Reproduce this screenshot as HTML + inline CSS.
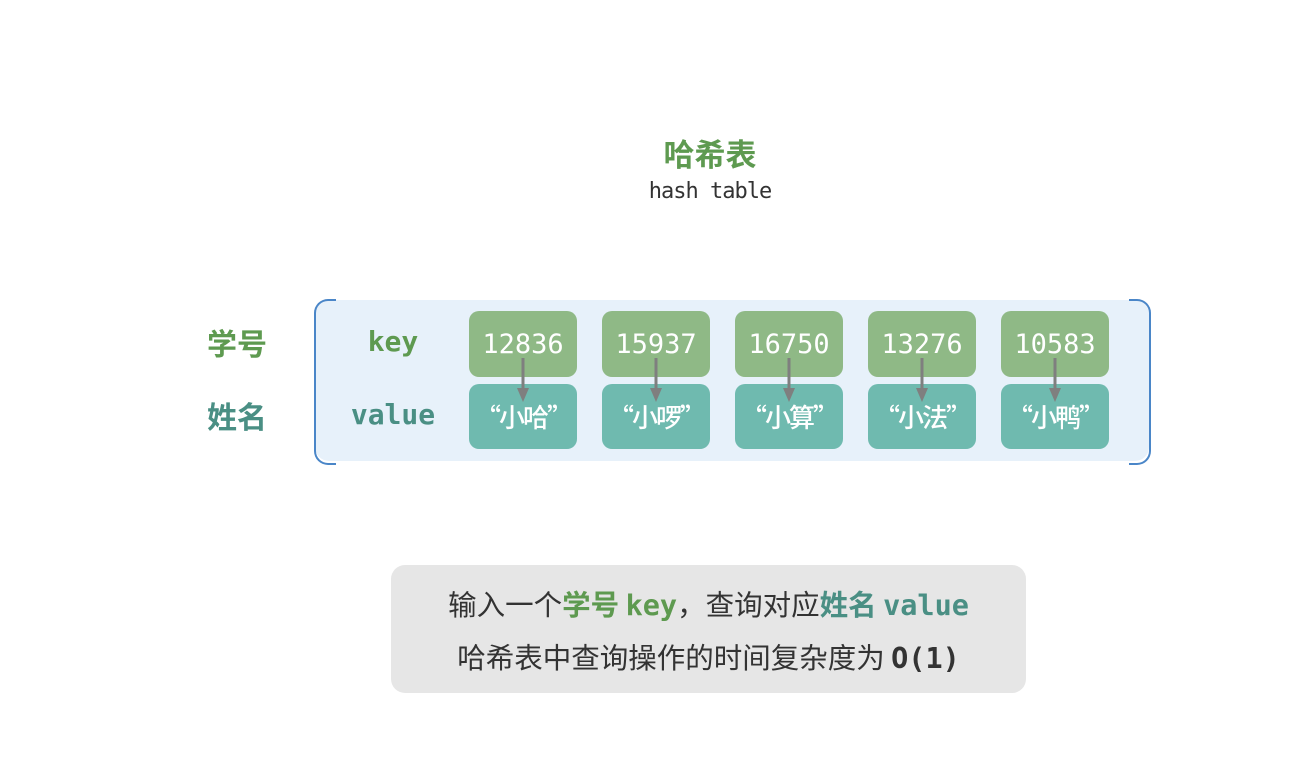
<!DOCTYPE html>
<html><head><meta charset="utf-8"><style>
body{margin:0;width:1312px;height:776px;background:#fff;position:relative;overflow:hidden;font-family:"Liberation Sans","Noto Sans CJK SC",sans-serif}
.a{position:absolute}
.c{text-align:center}
.box{position:absolute;width:108px;border-radius:10px;color:#fff;display:flex;align-items:center;justify-content:center}
.k{top:311px;height:66px;background:#8fb986;font:27px "DejaVu Sans Mono","Liberation Mono",monospace}
.v{top:384px;height:65px;background:#6fbaaf;font:500 26px "Noto Sans CJK SC",sans-serif;letter-spacing:-2px}
.mono{font-family:"DejaVu Sans Mono","Liberation Mono",monospace;font-weight:bold}
</style></head><body>
<div class="a c" style="left:560px;width:300px;top:130px;font:bold 31px 'Noto Sans CJK SC',sans-serif;color:#5e9a50">哈希表</div>
<div class="a c" style="left:560px;width:300px;top:179px;font:22px 'DejaVu Sans Mono',monospace;letter-spacing:-1px;color:#333">hash table</div>

<div class="a" style="left:315px;top:300px;width:834px;height:161px;background:#e7f1fa;border-radius:14px"></div>
<div class="a" style="left:314px;top:299px;width:20px;height:162px;border:2px solid #4a86c8;border-right:none;border-radius:14px 0 0 14px"></div>
<div class="a" style="left:1129px;top:299px;width:20px;height:162px;border:2px solid #4a86c8;border-left:none;border-radius:0 14px 14px 0"></div>

<div class="a" style="left:207px;top:320px;font:bold 30px 'Noto Sans CJK SC',sans-serif;color:#5e9a50">学号</div>
<div class="a" style="left:207px;top:393px;font:bold 30px 'Noto Sans CJK SC',sans-serif;color:#4a8f84">姓名</div>
<div class="a c mono" style="left:338px;width:110px;top:325px;font-size:28px;color:#5e9a50">key</div>
<div class="a c mono" style="left:338px;width:110px;top:398px;font-size:28px;color:#4a8f84">value</div>

<div class="box k" style="left:469px">12836</div>
<div class="box k" style="left:602px">15937</div>
<div class="box k" style="left:735px">16750</div>
<div class="box k" style="left:868px">13276</div>
<div class="box k" style="left:1001px">10583</div>
<div class="box v" style="left:469px">“小哈”</div>
<div class="box v" style="left:602px">“小啰”</div>
<div class="box v" style="left:735px">“小算”</div>
<div class="box v" style="left:868px">“小法”</div>
<div class="box v" style="left:1001px">“小鸭”</div>

<svg class="a" style="left:0;top:0" width="1312" height="776">
<g fill="#7f7f7f" stroke="#7f7f7f" stroke-width="3">
<line x1="523" y1="358" x2="523" y2="390"/><polygon stroke="none" points="517,388 529,388 523,402"/>
<line x1="656" y1="358" x2="656" y2="390"/><polygon stroke="none" points="650,388 662,388 656,402"/>
<line x1="789" y1="358" x2="789" y2="390"/><polygon stroke="none" points="783,388 795,388 789,402"/>
<line x1="922" y1="358" x2="922" y2="390"/><polygon stroke="none" points="916,388 928,388 922,402"/>
<line x1="1055" y1="358" x2="1055" y2="390"/><polygon stroke="none" points="1049,388 1061,388 1055,402"/>
</g></svg>

<div class="a" style="left:391px;top:565px;width:635px;height:128px;background:#e6e6e6;border-radius:14px"></div>
<div class="a c" style="left:391px;width:635px;top:584px;font-size:28.5px;color:#333;font-family:'Noto Sans CJK SC',sans-serif;line-height:40px">输入一个<b style="color:#5e9a50">学号 <span class="mono">key</span></b>，查询对应<b style="color:#4a8f84">姓名 <span class="mono">value</span></b></div>
<div class="a c" style="left:391px;width:635px;top:637px;font-size:28.5px;color:#333;font-family:'Noto Sans CJK SC',sans-serif;line-height:40px">哈希表中查询操作的时间复杂度为 <span class="mono">O(1)</span></div>
</body></html>
